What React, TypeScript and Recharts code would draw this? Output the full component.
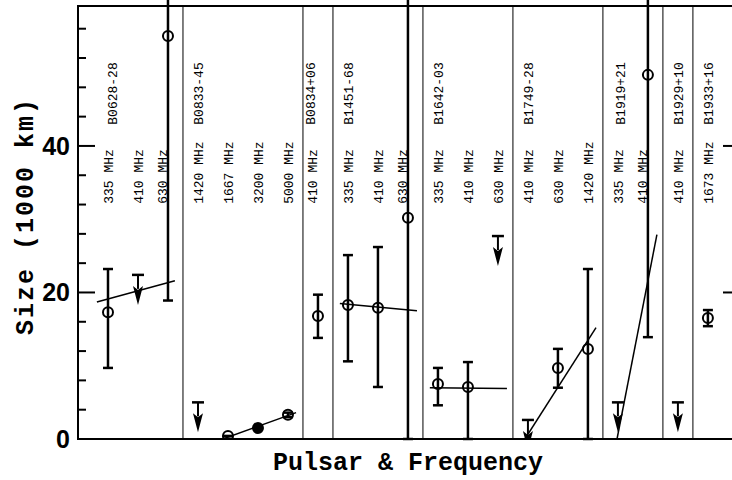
import {
  ComposedChart,
  XAxis,
  YAxis,
  Scatter,
  ErrorBar,
  Line,
  ReferenceLine,
  ReferenceArea,
} from "recharts";

// column labels (one per observing frequency, left to right)
const freqLabels = [
  "335 MHz", "410 MHz", "630 MHz",
  "1420 MHz", "1667 MHz", "3200 MHz", "5000 MHz",
  "410 MHz",
  "335 MHz", "410 MHz", "630 MHz",
  "335 MHz", "410 MHz", "630 MHz",
  "410 MHz", "630 MHz", "1420 MHz",
  "335 MHz", "410 MHz",
  "410 MHz",
  "1673 MHz",
];
const freqLabelPos = [0, 1, 1.8, 3, 4, 5, 6, 6.8, 8, 9, 9.8, 11, 12, 13, 14, 15, 16, 17, 17.83, 19, 20];

const pulsars = ["B0628-28", "B0833-45", "B0834+06", "B1451-68", "B1642-03", "B1749-28", "B1919+21", "B1929+10", "B1933+16"];
const pulsarLabelPos = [0.13, 3, 6.73, 8, 11, 14, 17.07, 19, 20];

const separators = [2.5, 6.5, 7.5, 10.5, 13.5, 16.5, 18.5, 19.5];

// measured sizes (1000 km) with error range
const detCol = [0, 2, 4, 5, 6, 7, 8, 9, 10, 11, 12, 15, 16, 18, 20];
const detSize = [17.3, 55.0, 0.4, 1.5, 3.3, 16.8, 18.3, 17.9, 30.2, 7.5, 7.1, 9.7, 12.3, 49.7, 16.5];
const detLow = [9.7, 18.9, 0.4, 1.5, 3.0, 13.8, 10.6, 7.1, 0, 4.6, 0, 7.0, 0, 13.9, 15.4];
const detHigh = [23.2, 70, 0.4, 1.5, 3.6, 19.7, 25.1, 26.2, 70, 9.7, 10.5, 12.3, 23.2, 70, 17.6];
const filledCols = [5];

// upper limits
const limitCol = [1, 3, 13, 14, 17, 19];
const limitSize = [22.4, 5.0, 27.7, 2.6, 5.0, 5.0];

// fitted lines per pulsar
const fitX = [[-0.37, 2.23], [3.83, 6.27], [7.73, 10.3], [10.73, 13.3], [13.9, 16.27], [16.97, 18.3]];
const fitY = [[18.7, 21.6], [0, 3.6], [18.5, 17.5], [7.0, 6.9], [0, 15.2], [0, 27.9]];

const yTicks = [0, 4, 8, 12, 16, 20, 24, 28, 32, 36, 40, 44, 48, 52, 56];
const yMajor = [0, 20, 40];

const X_MIN = -1;
const X_MAX = 21.07;
const Y_MAX = 59.1;
const FREQ_BASE = 32.1;
const NAME_BASE = 42.9;

const detections = detCol.map((c, i) => ({
  x: c,
  y: detSize[i],
  err: [detSize[i] - detLow[i], detHigh[i] - detSize[i]],
  filled: filledCols.includes(c),
}));
const limits = limitCol.map((c, i) => ({ x: c, y: limitSize[i] }));
const labels = [
  ...freqLabels.map((t, i) => ({ x: freqLabelPos[i], y: FREQ_BASE, text: t })),
  ...pulsars.map((t, i) => ({ x: pulsarLabelPos[i], y: NAME_BASE, text: t })),
];

const mono = "'Liberation Mono', 'DejaVu Sans Mono', monospace";

function LeftTick({ x, y, payload }: any) {
  const major = yMajor.includes(payload.value);
  return (
    <g>
      <line x1={x} x2={x + (major ? 17 : 8)} y1={y} y2={y} stroke="#000" strokeWidth={2} />
      {major && (
        <text x={x - 8} y={y} dy="0.36em" textAnchor="end" fontFamily="'Liberation Sans', Arial, sans-serif" fontWeight="bold" fontSize={25} fill="#000">
          {payload.value}
        </text>
      )}
    </g>
  );
}

function RightTick({ x, y, payload }: any) {
  const major = yMajor.includes(payload.value);
  return <line x1={x} x2={x - (major ? 17 : 8)} y1={y} y2={y} stroke="#000" strokeWidth={2} />;
}

function Circle({ cx, cy, payload }: any) {
  return <circle cx={cx} cy={cy} r={5} fill={payload.filled ? "#000" : "none"} stroke="#000" strokeWidth={2} />;
}

function Arrow({ cx, cy }: any) {
  return (
    <g>
      <line x1={cx - 6} x2={cx + 6} y1={cy} y2={cy} stroke="#000" strokeWidth={2.5} />
      <line x1={cx} x2={cx} y1={cy} y2={cy + 14} stroke="#000" strokeWidth={2} />
      <path d={`M${cx - 5},${cy + 11} L${cx},${cy + 15} L${cx + 5},${cy + 11} L${cx},${cy + 30} Z`} fill="#000" />
    </g>
  );
}

function RotLabel({ cx, cy, payload }: any) {
  return (
    <text x={cx} y={cy} dy="0.36em" transform={`rotate(-90 ${cx} ${cy})`} fontFamily={mono} fontSize={13} fill="#000">
      {payload.text}
    </text>
  );
}

export default function App() {
  return (
    <div style={{ position: "absolute", left: 0, top: 0, width: 732, height: 480, overflow: "hidden", background: "#fff" }}>
      <ComposedChart width={748} height={480} margin={{ top: 6, right: 0, bottom: 41, left: 0 }}>
        <XAxis type="number" dataKey="x" domain={[X_MIN, X_MAX]} allowDataOverflow hide />
        <YAxis
          type="number"
          domain={[0, Y_MAX]}
          allowDataOverflow
          width={78}
          ticks={yTicks}
          interval={0}
          tickSize={0}
          tickMargin={0}
          tickLine={false}
          axisLine={{ stroke: "#000", strokeWidth: 2 }}
          tick={<LeftTick />}
        />
        <YAxis
          yAxisId="r"
          orientation="right"
          type="number"
          domain={[0, Y_MAX]}
          allowDataOverflow
          width={8}
          ticks={yTicks}
          interval={0}
          tickSize={0}
          tickMargin={0}
          tickLine={false}
          axisLine={false}
          tick={<RightTick />}
        />
        <ReferenceArea x1={X_MIN} x2={X_MAX} y1={0} y2={Y_MAX} fill="none" stroke="#000" strokeWidth={2} />
        {separators.map((s) => (
          <ReferenceLine key={s} x={s} stroke="#000" strokeWidth={1} />
        ))}
        {fitX.map((xs, i) => (
          <Line
            key={i}
            data={[{ x: xs[0], y: fitY[i][0] }, { x: xs[1], y: fitY[i][1] }]}
            dataKey="y"
            stroke="#000"
            strokeWidth={1.5}
            dot={false}
            isAnimationActive={false}
          />
        ))}
        <Scatter data={labels} dataKey="y" shape={<RotLabel />} isAnimationActive={false} />
        <Scatter data={detections} dataKey="y" shape={<Circle />} isAnimationActive={false}>
          <ErrorBar dataKey="err" direction="y" width={5} stroke="#000" strokeWidth={2.5} />
        </Scatter>
        <Scatter data={limits} dataKey="y" shape={<Arrow />} isAnimationActive={false} />
      </ComposedChart>
      <svg width={732} height={480} style={{ position: "absolute", left: 0, top: 0, pointerEvents: "none" }}>
        <text x={408} y={470} textAnchor="middle" fontFamily={mono} fontWeight="bold" fontSize={25} fill="#000">
          Pulsar &amp; Frequency
        </text>
        <text x={33} y={216} textAnchor="middle" transform="rotate(-90 33 216)" fontFamily={mono} fontWeight="bold" fontSize={25} letterSpacing={2} fill="#000">
          Size (1000 km)
        </text>
      </svg>
    </div>
  );
}
